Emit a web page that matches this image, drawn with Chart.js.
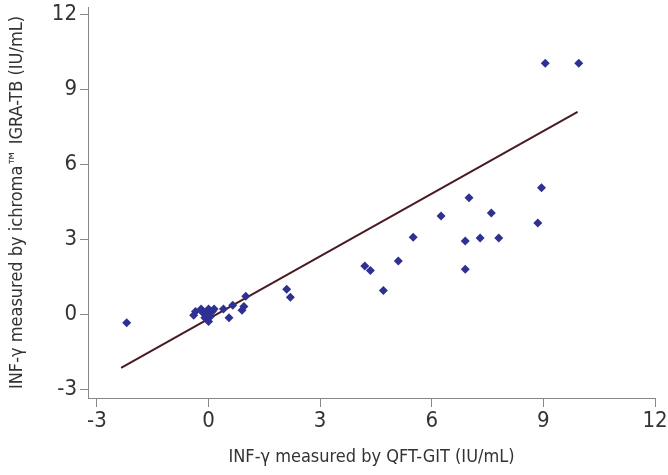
<!DOCTYPE html>
<html>
<head>
<meta charset="utf-8">
<script src="https://cdn.jsdelivr.net/npm/chart.js@4"></script>
<style>
  body { margin: 0; background: #fff; }
  #wrap { width: 668px; height: 475px; }
</style>
</head>
<body>
<div id="wrap"><canvas id="scatter"></canvas></div>
<script>
// INF-gamma, QFT-GIT (x) vs ichroma IGRA-TB (y), IU/mL
var qftValues = [-2.2, -0.4, -0.35, -0.2, -0.15, -0.1, -0.05, 0, 0, 0, 0.05, 0.1, 0.15, 0.4, 0.55, 0.65, 0.9, 0.95, 1.0,
                 2.1, 2.2, 4.2, 4.35, 4.7, 5.1, 5.5, 6.25, 6.9, 6.9, 7.0, 7.3, 7.6, 7.8, 8.85, 8.95, 9.05, 9.95];
var ichromaValues = [-0.35, -0.05, 0.1, 0.2, 0.05, -0.15, 0.05, 0.2, 0, -0.3, -0.1, 0.1, 0.2, 0.2, -0.15, 0.35, 0.15, 0.3, 0.72,
                     1.0, 0.68, 1.93, 1.75, 0.95, 2.13, 3.08, 3.93, 2.93, 1.8, 4.66, 3.05, 4.05, 3.05, 3.65, 5.06, 10.05, 10.05];

// regression line end points
var fitX = [-2.35, 9.92];
var fitY = [-2.15, 8.1];

var xTickValues = [-3, 0, 3, 6, 9, 12];
var yTickValues = [-3, 0, 3, 6, 9, 12];

var fontFamily = "'DejaVu Sans Condensed', 'Liberation Sans Narrow', 'Liberation Sans', sans-serif";

function toPoints(xs, ys) {
  return xs.map(function (x, i) { return { x: x, y: ys[i] }; });
}

var ctx = document.getElementById("scatter").getContext('2d');
var scatterChart = new Chart(ctx, {
  type: 'scatter',
  data: {
    datasets: [{
      data: toPoints(qftValues, ichromaValues),
      pointStyle: 'rectRot',
      pointRadius: 4.5,
      backgroundColor: '#2e3192',
      borderColor: '#2e3192',
      borderWidth: 0
    }, {
      type: 'line',
      data: toPoints(fitX, fitY),
      borderColor: '#4a1a22',
      borderWidth: 2,
      pointRadius: 0,
      fill: false
    }]
  },
  options: {
    responsive: true,
    maintainAspectRatio: false,
    animation: false,
    layout: { padding: { left: 0, right: 13, top: 7, bottom: 0 } },
    plugins: { legend: { display: false }, tooltip: { enabled: false } },
    scales: {
      x: {
        type: 'linear',
        min: -3.24,
        max: 12,
        afterBuildTicks: function (axis) { axis.ticks = xTickValues.map(function (v) { return { value: v }; }); },
        afterFit: function (axis) { axis.height = 77; axis.paddingLeft = 0; axis.paddingRight = 0; },
        grid: { drawOnChartArea: false, drawTicks: true, tickLength: 9, color: '#888' },
        border: { color: '#888', width: 1 },
        ticks: { color: '#333', font: { family: fontFamily, size: 22 }, padding: 1 },
        title: { display: true, text: 'INF-γ measured by QFT-GIT (IU/mL)', color: '#333',
                 font: { family: fontFamily, size: 18 }, padding: { top: 2, bottom: 7 } }
      },
      y: {
        type: 'linear',
        min: -3.36,
        max: 12.3,
        afterBuildTicks: function (axis) { axis.ticks = yTickValues.map(function (v) { return { value: v }; }); },
        afterFit: function (axis) { axis.width = 88; axis.paddingTop = 0; axis.paddingBottom = 0; },
        grid: { drawOnChartArea: false, drawTicks: true, tickLength: 8, color: '#888' },
        border: { color: '#888', width: 1 },
        ticks: { color: '#333', font: { family: fontFamily, size: 22 }, padding: 3 },
        title: { display: true, text: 'INF-γ measured by ichroma™ IGRA-TB (IU/mL)', color: '#333',
                 font: { family: fontFamily, size: 18 }, padding: { top: 7, bottom: 2 } }
      }
    }
  }
});
</script>
</body>
</html>
